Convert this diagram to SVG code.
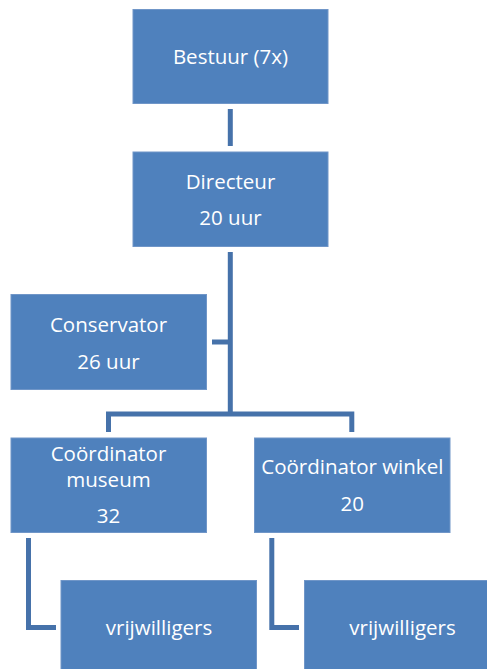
<svg xmlns="http://www.w3.org/2000/svg" width="487" height="669" viewBox="0 0 487 669">
<style>
.box{fill:#4F81BD;stroke:#7096C8;stroke-width:1}
.lbl{font-family:"Open Sans","Liberation Sans",sans-serif;font-size:20.5px;fill:#FFFFFF;text-anchor:middle}
.conn{fill:none;stroke:#4672AA;stroke-width:5;stroke-linejoin:miter;stroke-linecap:butt}
</style>
<rect width="487" height="669" fill="#FFFFFF"/>
<g id="connectors">
<path class="conn" d="M230.3 109 V146"/>
<path class="conn" d="M230.3 252 V414"/>
<path class="conn" d="M212 342 H230.3"/>
<path class="conn" d="M108.5 432 V414 H351.8 V432"/>
<path class="conn" d="M28.5 538 V627.5 H56"/>
<path class="conn" d="M271.8 538 V627.5 H299"/>
</g>
<g id="bestuur">
<rect class="box" x="133" y="9.5" width="195" height="94"/>
<text class="lbl" x="230.5" y="64">Bestuur (7x)</text>
</g>
<g id="directeur">
<rect class="box" x="133" y="152" width="195" height="94.5"/>
<text class="lbl" x="230.5" y="188.5">Directeur</text>
<text class="lbl" x="230.5" y="225">20 uur</text>
</g>
<g id="conservator">
<rect class="box" x="11" y="294.5" width="195.5" height="95"/>
<text class="lbl" x="108.5" y="331.5">Conservator</text>
<text class="lbl" x="108.5" y="368.5">26 uur</text>
</g>
<g id="coordinator-museum">
<rect class="box" x="11" y="438" width="195.5" height="94.5"/>
<text class="lbl" x="108.5" y="461">Coördinator</text>
<text class="lbl" x="108.5" y="486.5">museum</text>
<text class="lbl" x="108.5" y="523">32</text>
</g>
<g id="coordinator-winkel">
<rect class="box" x="254.5" y="438" width="195.5" height="94.5"/>
<text class="lbl" x="352.3" y="474">Coördinator winkel</text>
<text class="lbl" x="352.3" y="511">20</text>
</g>
<g id="vrijwilligers-museum">
<rect class="box" x="61" y="580.5" width="195.5" height="95"/>
<text class="lbl" x="159" y="635">vrijwilligers</text>
</g>
<g id="vrijwilligers-winkel">
<rect class="box" x="304.5" y="580.5" width="195.5" height="95"/>
<text class="lbl" x="402.5" y="635">vrijwilligers</text>
</g>
</svg>
